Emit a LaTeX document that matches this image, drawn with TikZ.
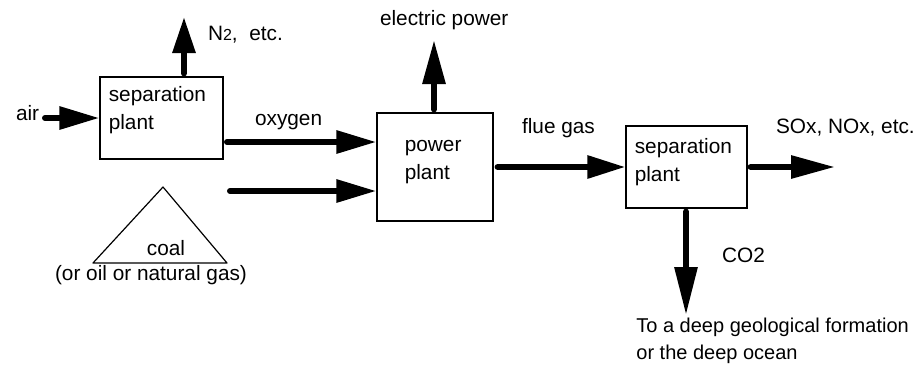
\documentclass[tikz,border=0pt]{standalone}
\usepackage{fontspec}
\setmainfont{Liberation Sans}
\usetikzlibrary{arrows.meta,positioning,calc}
\tikzset{plant/.style={draw,line width=0.6pt,inner sep=0pt},
  flow/.style={line width=3pt,line cap=round,-{Triangle[length=#1,width=11pt]}},
  flow/.default=20pt,
  txt/.style={inner sep=0pt,align=left}}

\begin{document}
\begin{tikzpicture}[x=0.5pt,y=-0.5pt,font=\fontsize{10.4}{14}\selectfont]
\useasboundingbox (0,0) rectangle (917,365);
% plants
\node[plant,minimum width=61.5pt,minimum height=41pt] (sep1) at (161.5,118) {};
\node[plant,minimum width=58pt,minimum height=54pt] (power) at (435,167) {};
\node[plant,minimum width=60.5pt,minimum height=41pt] (sep2) at (686.5,167) {};
\node[txt,below right=5pt and 4.5pt of sep1.north west] (sep1txt) {separation\\plant};
\node[txt,below right=14pt and 14pt of power.north west] (powertxt) {power\\plant};
\node[txt,below right=6.5pt and 4.5pt of sep2.north west] (sep2txt) {separation\\plant};
% fuel
\coordinate (apex) at (163,187);
\coordinate (baseL) at (93,263);
\coordinate (baseR) at (227,263);
\draw[line width=0.6pt,line join=round] (apex) -- (baseR) -- (baseL) -- cycle;
\node[anchor=base] (coal) at (166,255) {coal};
\node[anchor=base] (fuels) at (151,280) {(or oil or natural gas)};
% free ends
\coordinate (airin) at (45,118);
\coordinate (n2out) at (184,17);
\coordinate (oxin) at (227,142);
\coordinate (fuelin) at (230,191);
\coordinate (elecout) at (434,40);
\coordinate (soxout) at (835,167);
\coordinate (co2out) at (686,315);
% flows
\draw[flow] (airin) -- (sep1.west);
\draw[flow=18pt] ([yshift=1.5pt]sep1.north -| n2out) -- (n2out);
\draw[flow] (oxin) -- (oxin -| power.west);
\draw[flow] (fuelin) -- (fuelin -| power.west);
\draw[flow=22pt] ([yshift=1.5pt]power.north -| elecout) -- (elecout);
\draw[flow=19pt] ([xshift=2pt]power.east) -- (power.east -| sep2.west);
\draw[flow=22pt] ([xshift=1.5pt]sep2.east) -- (soxout);
\draw[flow=24pt] ([yshift=-1.5pt]sep2.south -| co2out) -- (co2out);
% labels
\node[anchor=base west] (airlbl) at (9,120) {air};
\node[anchor=base west] (n2lbl) at (201,40) {N{\fontsize{8}{8}\selectfont 2}, \ etc.};
\node[anchor=base west] (oxlbl) at (248,125) {oxygen};
\node[anchor=base west] (eleclbl) at (373,25) {electric power};
\node[anchor=base west] (fluelbl) at (515,133) {flue gas};
\node[anchor=base west] (soxlbl) at (769,133) {SOx, NOx, etc.};
\node[anchor=base west] (co2lbl) at (715,262) {CO2};
\node[txt,anchor=north west,font=\fontsize{10}{13.5}\selectfont] (dest) at (636,318) {To a deep geological formation\\or the deep ocean};
\end{tikzpicture}
\end{document}
